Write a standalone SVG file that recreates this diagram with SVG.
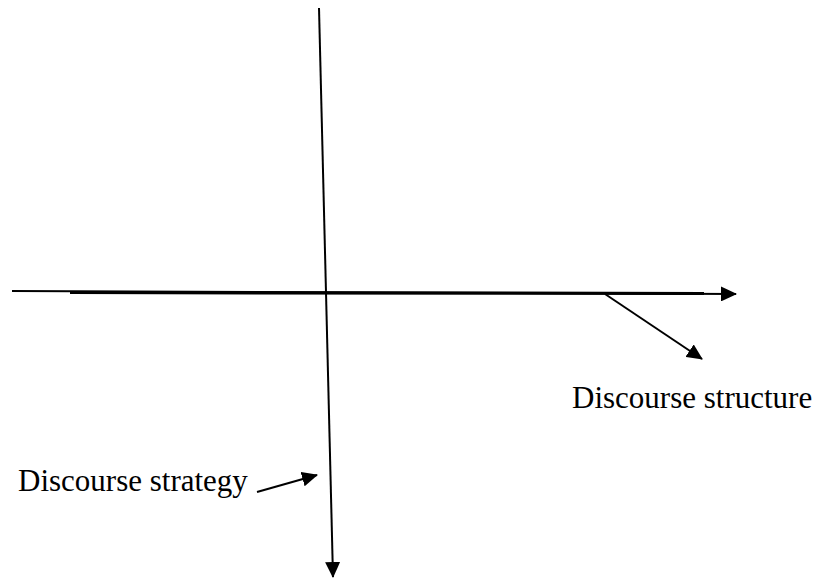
<svg xmlns="http://www.w3.org/2000/svg" width="821" height="579" viewBox="0 0 821 579">
  <style>
    .ln { stroke: #000; fill: none; stroke-width: 2; }
    .thick { stroke: #000; fill: none; stroke-width: 3.2; }
    .lbl { font-family: "Liberation Serif", "Times New Roman", serif; font-size: 31px; fill: #000; }
  </style>
  <defs>
    <marker id="ah" markerUnits="userSpaceOnUse" markerWidth="16" markerHeight="15" refX="15" refY="7.5" orient="auto" viewBox="0 0 16 15">
      <path d="M0,0 L16,7.5 L0,15 z" fill="#000"/>
    </marker>
  </defs>
  <rect width="821" height="579" fill="#fff"/>
  <g id="connectors">
    <line class="ln" x1="12" y1="291" x2="736" y2="294" marker-end="url(#ah)"/>
    <line class="thick" x1="70" y1="292.5" x2="704" y2="293.5"/>
    <line class="ln" x1="319" y1="8" x2="333" y2="577" marker-end="url(#ah)"/>
    <line class="ln" x1="605" y1="294" x2="702" y2="359" marker-end="url(#ah)"/>
    <line class="ln" x1="257" y1="492" x2="317" y2="475" marker-end="url(#ah)"/>
  </g>
  <g id="label-structure">
    <text class="lbl" x="572" y="408">Discourse structure</text>
  </g>
  <g id="label-strategy">
    <text class="lbl" x="18" y="491">Discourse strategy</text>
  </g>
</svg>
